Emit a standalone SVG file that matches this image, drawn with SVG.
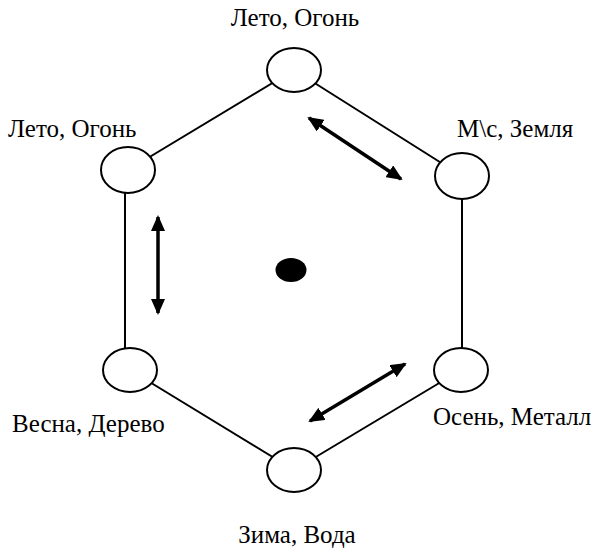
<svg xmlns="http://www.w3.org/2000/svg" width="596" height="548" viewBox="0 0 596 548">
<style>
.edge{stroke:#000;stroke-width:2;fill:none}
.arr{stroke:#000;stroke-width:3.5;fill:none;marker-start:url(#head);marker-end:url(#head)}
.node ellipse{fill:#fff;stroke:#000;stroke-width:2}
text{font-family:"Liberation Serif","Times New Roman",serif;font-size:25px;fill:#000}
</style>
<defs>
<marker id="head" markerUnits="userSpaceOnUse" markerWidth="16" markerHeight="14" refX="14" refY="7" orient="auto-start-reverse">
<path d="M0,0 L16,7 L0,14 Z" fill="#000"/>
</marker>
</defs>
<rect width="596" height="548" fill="#fff"/>
<g id="connectors">
<line class="edge" x1="294" y1="70" x2="128" y2="170"/>
<line class="edge" x1="294" y1="70" x2="462" y2="176"/>
<line class="edge" x1="125" y1="170" x2="125" y2="370"/>
<line class="edge" x1="462" y1="176" x2="462" y2="370"/>
<line class="edge" x1="130" y1="370" x2="294" y2="470"/>
<line class="edge" x1="461" y1="370" x2="294" y2="470"/>
<line class="arr" x1="309" y1="118" x2="401" y2="179"/>
<line class="arr" x1="310" y1="421" x2="405" y2="364"/>
<line class="arr" x1="158" y1="217" x2="158" y2="313"/>
</g>
<g id="n-top" class="node"><ellipse cx="294" cy="70" rx="27" ry="22"/><text x="295" y="26" text-anchor="middle">Лето, Огонь</text></g>
<g id="n-topleft" class="node"><ellipse cx="128" cy="170" rx="27" ry="23"/><text x="8" y="137">Лето, Огонь</text></g>
<g id="n-topright" class="node"><ellipse cx="462" cy="176" rx="27" ry="23"/><text x="457" y="137">М\с, Земля</text></g>
<g id="n-bottomleft" class="node"><ellipse cx="130" cy="370" rx="27" ry="22"/><text x="12" y="432">Весна, Дерево</text></g>
<g id="n-bottomright" class="node"><ellipse cx="461" cy="370" rx="27" ry="22"/><text x="433" y="425">Осень, Металл</text></g>
<g id="n-bottom" class="node"><ellipse cx="294" cy="470" rx="27" ry="22"/><text x="297" y="543" text-anchor="middle">Зима, Вода</text></g>
<g id="center"><ellipse cx="291" cy="270" rx="15.5" ry="12" fill="#000"/></g>
</svg>
